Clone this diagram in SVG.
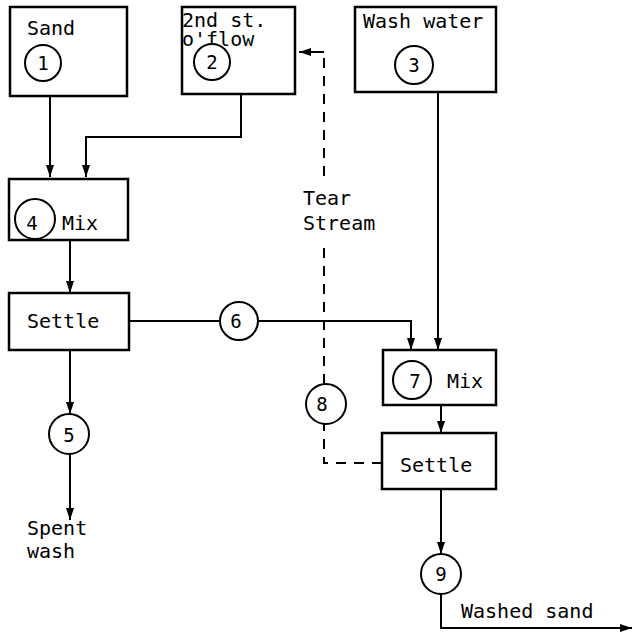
<svg xmlns="http://www.w3.org/2000/svg" width="633" height="635" viewBox="0 0 633 635">
<defs>
<marker id="ah" viewBox="0 0 12 8" refX="12" refY="4" markerWidth="12" markerHeight="8" markerUnits="userSpaceOnUse" orient="auto">
<path d="M0,0 L12,4 L0,8 Z" fill="#000"/>
</marker>
</defs>
<style>
.box{fill:#fff;stroke:#000;stroke-width:2.5}
.c{fill:#fff;stroke:#000;stroke-width:2}
.t{font-family:"DejaVu Sans Mono","Liberation Mono",monospace;font-size:20px;fill:#000}
.n{font-family:"DejaVu Sans Mono","Liberation Mono",monospace;font-size:19px;fill:#000;text-anchor:middle}
.l{fill:none;stroke:#000;stroke-width:2}
.d{fill:none;stroke:#000;stroke-width:2;stroke-dasharray:10 8}
</style>
<rect width="633" height="635" fill="#fff"/>
<g id="connectors">
<path class="l" d="M50,97 V177" marker-end="url(#ah)"/>
<path class="l" d="M241,94 V137 H86 V177" marker-end="url(#ah)"/>
<path class="l" d="M70,240 V293" marker-end="url(#ah)"/>
<path class="l" d="M129,321 H220"/>
<path class="l" d="M258,321 H411 V350" marker-end="url(#ah)"/>
<path class="l" d="M438,92 V350" marker-end="url(#ah)"/>
<path class="l" d="M441,405 V433" marker-end="url(#ah)"/>
<path class="l" d="M70,350 V414" marker-end="url(#ah)"/>
<path class="l" d="M70,454 V520" marker-end="url(#ah)"/>
<path class="l" d="M441,489 V554" marker-end="url(#ah)"/>
<path class="l" d="M441,594 V628 H632" marker-end="url(#ah)"/>
<path class="d" d="M382,463 H324 V424"/>
<path class="d" d="M324,384 V246"/>
<path class="d" d="M324,176 V54"/>
<path class="l" d="M324,52 H299" marker-end="url(#ah)"/>
</g>
<g id="n1">
<rect class="box" x="10" y="7" width="117" height="89"/>
<text class="t" x="27" y="35">Sand</text>
<circle class="c" cx="43" cy="63" r="18"/>
<text class="n" x="43" y="70">1</text>
</g>
<g id="n2">
<rect class="box" x="182" y="7" width="113" height="87"/>
<text class="t" x="182" y="27">2nd st.</text>
<text class="t" x="182" y="46">o'flow</text>
<circle class="c" cx="212" cy="62" r="18"/>
<text class="n" x="212" y="69">2</text>
</g>
<g id="n3">
<rect class="box" x="355" y="7" width="141" height="85"/>
<text class="t" x="363" y="28">Wash water</text>
<circle class="c" cx="414" cy="65" r="19"/>
<text class="n" x="414" y="72">3</text>
</g>
<g id="n4">
<rect class="box" x="9" y="179" width="119" height="61"/>
<circle class="c" cx="35" cy="219" r="20"/>
<text class="n" x="32" y="230">4</text>
<text class="t" x="62" y="230">Mix</text>
</g>
<g id="settle1">
<rect class="box" x="9" y="293" width="120" height="57"/>
<text class="t" x="27" y="328">Settle</text>
</g>
<g id="n5">
<circle class="c" cx="69" cy="434" r="20"/>
<text class="n" x="69" y="442">5</text>
</g>
<g id="n6">
<circle class="c" cx="239" cy="321" r="19"/>
<text class="n" x="236" y="328">6</text>
</g>
<g id="n7">
<rect class="box" x="383" y="350" width="113" height="55"/>
<circle class="c" cx="412" cy="380" r="19"/>
<text class="n" x="415" y="388">7</text>
<text class="t" x="447" y="388">Mix</text>
</g>
<g id="settle2">
<rect class="box" x="382" y="433" width="114" height="56"/>
<text class="t" x="400" y="472">Settle</text>
</g>
<g id="n8">
<circle class="c" cx="326" cy="404" r="20"/>
<text class="n" x="322" y="411">8</text>
</g>
<g id="n9">
<circle class="c" cx="441" cy="574" r="20"/>
<text class="n" x="441" y="581">9</text>
</g>
<g id="labels">
<text class="t" x="303" y="205">Tear</text>
<text class="t" x="303" y="230">Stream</text>
<text class="t" x="27" y="535">Spent</text>
<text class="t" x="27" y="558">wash</text>
<text class="t" x="461" y="618">Washed sand</text>
</g>
</svg>
